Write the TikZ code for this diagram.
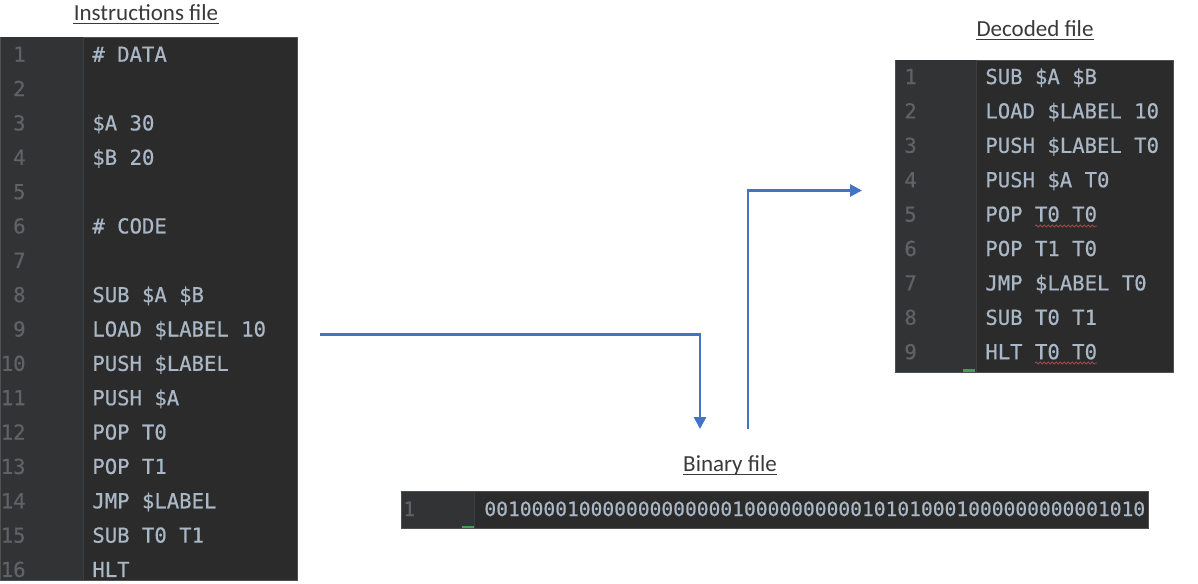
\documentclass[tikz,border=0pt]{standalone}
\usepackage{fontspec}
\setmainfont{Carlito}
\setmonofont[FakeBold=0.6]{DejaVu Sans Mono}
\usetikzlibrary{arrows.meta,decorations.pathmorphing}
\definecolor{codebg}{HTML}{2B2B2B}
\definecolor{gutterbg}{HTML}{313335}
\definecolor{gutteredge}{HTML}{3C3F41}
\definecolor{codefg}{HTML}{A9B7C6}
\definecolor{lnum}{HTML}{606366}
\definecolor{paneledge}{HTML}{505050}
\definecolor{flowblue}{HTML}{4472C4}
\definecolor{titlegray}{HTML}{3A3A3A}
\definecolor{typored}{HTML}{A04848}
\definecolor{markgreen}{HTML}{499C54}
\begin{document}
\begin{tikzpicture}[x=0.5pt,y=-0.5pt,
	panel/.style={draw=paneledge,line width=0.5pt,fill=codebg,inner sep=0pt,anchor=north west},
	codeline/.style={anchor=base west,inner sep=0pt,text=codefg,font=\ttfamily\fontsize{10.3}{12}\selectfont},
	linenum/.style={codeline,text=lnum},
	bincode/.style={codeline,font=\ttfamily\fontsize{9.8}{12}\selectfont},
	title/.style={anchor=base,inner sep=0pt,text=titlegray,font=\fontsize{11.5}{14}\selectfont},
	uline/.style={draw=titlegray,line width=0.5pt},
	flow/.style={draw=flowblue,line width=1.4pt,-{Triangle[length=6pt,width=6pt]}},
	typo/.style={draw=typored,line width=0.4pt,decorate,decoration={snake,amplitude=0.5pt,segment length=2pt}}]
	\useasboundingbox[fill=white] (0,0) rectangle (1198,583);
	% titles
	\node[title] (instrtitle) at (146,21) {Instructions file};
	\node[title] (dectitle) at (1035,37) {Decoded file};
	\node[title] (bintitle) at (730,471) {Binary file};
	\foreach \t in {instrtitle,dectitle,bintitle}
		\draw[uline] ([yshift=-1.5pt]\t.base west)--([yshift=-1.5pt]\t.base east);
	% instructions file
	\node[panel,minimum width=148.5pt,minimum height=271.5pt] (instr) at (0,37) {};
	\fill[gutterbg] (0.5,37.5) rectangle (83,579.5);
	\draw[gutteredge,line width=0.5pt] (83,37.5)--(83,579.5);
	\foreach \n in {1,...,16}
		\node[linenum,anchor=base east] (il\n) at (26,{61.7+(\n-1)*34.35}) {\n};
	\foreach \n/\code in {1/{\# DATA},3/{\$A 30},4/{\$B 20},6/{\# CODE},8/{SUB \$A \$B},
		9/{LOAD \$LABEL 10},10/{PUSH \$LABEL},11/{PUSH \$A},12/{POP T0},13/{POP T1},
		14/{JMP \$LABEL},15/{SUB T0 T1},16/{HLT}}
		\node[codeline] (ic\n) at (92,{61.7+(\n-1)*34.35}) {\code};
	% decoded file
	\node[panel,minimum width=139pt,minimum height=156pt] (decoded) at (895,60) {};
	\fill[gutterbg] (895.5,60.5) rectangle (976,371.5);
	\draw[gutteredge,line width=0.5pt] (976,60.5)--(976,371.5);
	\fill[markgreen] (963,369) rectangle (975,371.5);
	\foreach \n/\code in {1/{SUB \$A \$B},2/{LOAD \$LABEL 10},3/{PUSH \$LABEL T0},4/{PUSH \$A T0},
		5/{POP T0 T0},6/{POP T1 T0},7/{JMP \$LABEL T0},8/{SUB T0 T1},9/{HLT T0 T0}}{
		\node[linenum] (dl\n) at (904,{84+(\n-1)*34.4}) {\n};
		\node[codeline] (dc\n) at (985,{84+(\n-1)*34.4}) {\code};
	}
	\draw[typo] (1035,226)--(1097,226);
	\draw[typo] (1035,363)--(1097,363);
	% binary file
	\node[panel,minimum width=373.5pt,minimum height=18.5pt] (binary) at (401,491) {};
	\fill[gutterbg] (401.5,491.5) rectangle (474,527.5);
	\draw[gutteredge,line width=0.5pt] (474,491.5)--(474,527.5);
	\fill[markgreen] (462,525.5) rectangle (474,527.5);
	\node[linenum,font=\ttfamily\fontsize{9.8}{12}\selectfont] (bl1) at (403,516) {1};
	\node[bincode] (bc1) at (484,516) {00100001000000000000010000000000101010001000000000001010};
	% connectors
	\coordinate (instrout) at (320,334.5);
	\coordinate (binin) at (700,429);
	\coordinate (binout) at (748,429);
	\coordinate (decin) at (862,190.5);
	\draw[flow] (instrout)-|(binin);
	\draw[flow] (binout)|-(decin);
\end{tikzpicture}
\end{document}
